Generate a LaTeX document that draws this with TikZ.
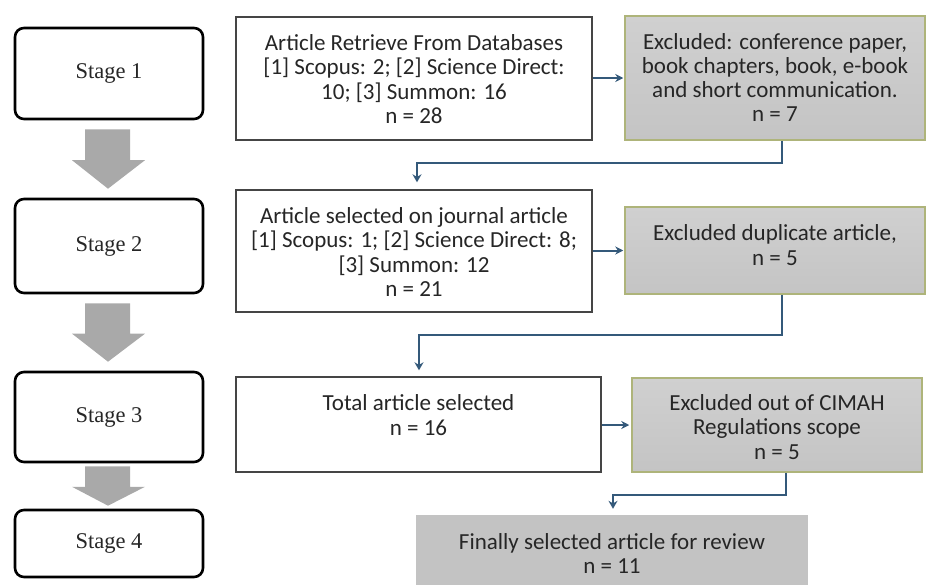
\documentclass[tikz,border=0pt]{standalone}
\usepackage{fontspec}
\setmainfont{Carlito}
\newfontfamily\stagefont{Liberation Serif}
\usetikzlibrary{calc,arrows.meta}
\definecolor{txtgray}{HTML}{262626}
\definecolor{connblue}{HTML}{34597A}
\definecolor{arrowgray}{HTML}{A9A9A9}
\definecolor{exfill}{HTML}{C4C4C4}
\definecolor{exfilltop}{HTML}{D0D0D0}
\definecolor{exborder}{HTML}{AEB47A}
\definecolor{finalfill}{HTML}{C3C3C3}
\definecolor{boxborder}{HTML}{454545}
\tikzset{
  stagebox/.style={draw=black, line width=2.6pt, rounded corners=9pt, fill=white,
    minimum width=188pt, font=\stagefont\fontsize{22.5}{26}\selectfont, text=txtgray, inner sep=0pt},
  whitebox/.style={draw=boxborder, line width=1.4pt, fill=white, inner sep=0pt},
  exbox/.style={draw=exborder, line width=1.5pt, top color=exfilltop, bottom color=exfill, inner sep=0pt,
    minimum width=300pt},
  finalbox/.style={fill=finalfill, inner sep=0pt},
  txt/.style={align=center, text=txtgray, font=\fontsize{23}{24.3}\selectfont, inner sep=0pt},
  conn/.style={draw=connblue, line width=2pt, -{Stealth[length=8pt,width=8pt]}},
  elbow/.style={draw=connblue, line width=2pt, -{Stealth[length=8pt,width=9pt]}},
}
\newcommand\stagearrow[3]{%
  \fill[arrowgray] let \p1=(#1.south), \p2=(#2.north) in
    (\x1-24pt,\y1+#3) -- (\x1+21pt,\y1+#3) -- (\x1+21pt,{\y1+#3+(\y2-\y1-2*#3)*0.52}) --
    (\x1+36pt,{\y1+#3+(\y2-\y1-2*#3)*0.52}) -- (\x1-1pt,\y2-#3) --
    (\x1-37pt,{\y1+#3+(\y2-\y1-2*#3)*0.52}) -- (\x1-24pt,{\y1+#3+(\y2-\y1-2*#3)*0.52}) -- cycle;}
\begin{document}
\begin{tikzpicture}[x=1pt,y=-1pt]
\useasboundingbox (0,0) rectangle (928,584);
% stages
\node[stagebox, minimum height=91pt] (s1) at (109,73.5) {Stage 1};
\node[stagebox, minimum height=94pt] (s2) at (109,246) {Stage 2};
\node[stagebox, minimum height=90pt] (s3) at (109,417) {Stage 3};
\node[stagebox, minimum height=67pt] (s4) at (109,543.5) {Stage 4};
\stagearrow{s1}{s2}{-9pt}
\stagearrow{s2}{s3}{-9pt}
\stagearrow{s3}{s4}{-3pt}
% boxes
\node[whitebox, minimum width=356pt, minimum height=123pt] (b1) at (414,78.5) {};
\node[exbox, minimum height=124pt] (e1) at (775,78) {};
\node[whitebox, minimum width=356pt, minimum height=122pt] (b2) at (414,251) {};
\node[exbox, minimum height=87pt] (e2) at (775,250.5) {};
\node[whitebox, minimum width=365pt, minimum height=95pt] (b3) at (418.5,424.5) {};
\node[exbox, minimum width=290pt, minimum height=94pt] (e3) at (777,425) {};
\node[finalbox, minimum width=392pt, minimum height=70pt] (f) at (612,550) {};
% texts
\node[txt] (b1t) at (414,79) {Article Retrieve From Databases\\\relax [1] Scopus: 2; [2] Science Direct:\\ 10; [3] Summon: 16\\ n = 28};
\node[txt] (e1t) at (775,77.5) {Excluded: conference paper,\\ book chapters, book, e-book\\ and short communication.\\ n = 7};
\node[txt] (b2t) at (414,252) {Article selected on journal article\\\relax [1] Scopus: 1; [2] Science Direct: 8;\\\relax [3] Summon: 12\\ n = 21};
\node[txt] (e2t) at (775,245) {Excluded duplicate article,\\ n = 5};
\node[txt] (b3t) at (418.5,415) {Total article selected\\ n = 16};
\node[txt] (e3t) at (777,427) {Excluded out of CIMAH\\ Regulations scope\\ n = 5};
\node[txt] (ft) at (612,553.5) {Finally selected article for review\\ n = 11};
% connectors
\coordinate (j1) at (417,163);
\coordinate (j2) at (419,335);
\coordinate (j3) at (613,495);
\draw[conn, shorten >=1pt] (b1.east |- e1.west) -- (e1.west);
\draw[conn, shorten >=1pt] (b2.east |- e2.west) -- (e2.west);
\draw[conn, shorten >=2pt] (b3.east |- e3.west) -- (e3.west);
\draw[elbow, shorten >=7pt] ($(e1.south)+(7,0)$) |- (j1) -- (j1 |- b2.north);
\draw[elbow, shorten >=6pt] ($(e2.south)+(7,0)$) |- (j2) -- (j2 |- b3.north);
\draw[elbow, shorten >=6pt] ($(e3.south)+(9,0)$) |- (j3) -- (j3 |- f.north);
\end{tikzpicture}
\end{document}
